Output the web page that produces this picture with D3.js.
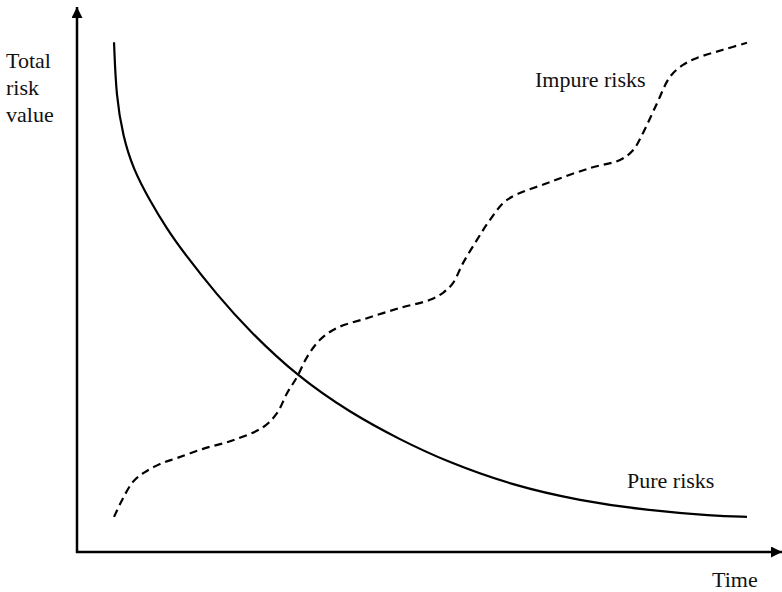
<!DOCTYPE html>
<html>
<head>
<meta charset="utf-8">
<script src="https://cdn.jsdelivr.net/npm/d3@7"></script>
<style>
  html, body { margin: 0; padding: 0; background: #fff; }
  svg { display: block; }
</style>
</head>
<body>
<svg id="chart" width="782" height="592"></svg>
<script>
// ---- Data (time 0..100, risk value 0..100, conceptual units) ----
const pureTime  = [5.29, 5.6, 6.57, 8.0, 10.43, 12.86, 15.14, 20.0, 24.71, 31.43, 39.0, 46.14, 52.86, 62.29, 71.86, 81.43, 90.86, 95.71];
const pureValue = [94.4, 84.3, 77.0, 71.0, 65.0, 59.8, 55.6, 47.6, 40.8, 32.6, 25.8, 20.8, 16.7, 12.3, 9.5, 7.7, 6.7, 6.5];

const impureTime  = [5.29, 6.43, 8.0, 9.71, 11.86, 14.29, 18.0, 22.29, 26.57, 28.57, 30.0, 31.43, 32.86, 34.71, 37.14, 41.43, 46.14, 50.43, 52.29, 53.71, 55.14, 57.14, 59.0, 61.43, 67.57, 73.29, 77.57, 79.43, 80.86, 82.86, 84.71, 86.57, 88.57, 92.29, 95.71];
const impureValue = [6.5, 9.6, 13.0, 14.8, 16.3, 17.4, 19.1, 20.7, 23.1, 25.7, 29.4, 32.4, 36.1, 39.3, 41.5, 43.3, 45.2, 46.7, 48.0, 49.8, 53.5, 57.8, 61.5, 65.2, 68.5, 71.1, 72.6, 74.4, 77.6, 83.1, 88.0, 90.2, 91.5, 93.0, 94.3];

const yLabelLines = ["Total", "risk", "value"];
const xLabel = "Time";
const seriesLabels = { pure: "Pure risks", impure: "Impure risks" };

// ---- Drawing ----
const FONT = "'Liberation Serif', 'Times New Roman', Times, 'DejaVu Serif', serif";
const svg = d3.select("#chart");
const x = d3.scaleLinear().domain([0, 100]).range([77, 777]);
const y = d3.scaleLinear().domain([0, 100]).range([552, 12]);

const defs = svg.append("defs");
defs.append("marker")
  .attr("id", "arrow")
  .attr("viewBox", "0 0 10 10")
  .attr("refX", 10).attr("refY", 5)
  .attr("markerUnits", "userSpaceOnUse")
  .attr("markerWidth", 11).attr("markerHeight", 11)
  .attr("orient", "auto")
  .append("path").attr("d", "M0,0 L10,5 L0,10 Z").attr("fill", "#000");

// axes
svg.append("line")
  .attr("x1", x(0)).attr("y1", y(0) + 1)
  .attr("x2", x(0)).attr("y2", 7)
  .attr("stroke", "#000").attr("stroke-width", 2.5)
  .attr("marker-end", "url(#arrow)");
svg.append("line")
  .attr("x1", x(0) - 1).attr("y1", y(0))
  .attr("x2", 782).attr("y2", y(0))
  .attr("stroke", "#000").attr("stroke-width", 2.5)
  .attr("marker-end", "url(#arrow)");

const pure = pureTime.map((t, i) => [t, pureValue[i]]);
const impure = impureTime.map((t, i) => [t, impureValue[i]]);

svg.append("path")
  .attr("d", d3.line().x(d => x(d[0])).y(d => y(d[1])).curve(d3.curveBasis)(pure))
  .attr("fill", "none").attr("stroke", "#000").attr("stroke-width", 2.2);

svg.append("path")
  .attr("d", d3.line().x(d => x(d[0])).y(d => y(d[1])).curve(d3.curveCatmullRom.alpha(0.5))(impure))
  .attr("fill", "none").attr("stroke", "#000").attr("stroke-width", 2.2)
  .attr("stroke-dasharray", "8,5");

// labels
function label(xp, yp, t) {
  return svg.append("text").attr("x", xp).attr("y", yp)
    .style("font-family", FONT).style("font-size", "22px").style("fill", "#111")
    .text(t);
}
yLabelLines.forEach((t, i) => label(6, 68 + i * 27, t));
label(712, 587, xLabel);
label(535, 87, seriesLabels.impure);
label(627, 488, seriesLabels.pure);
</script>
</body>
</html>
